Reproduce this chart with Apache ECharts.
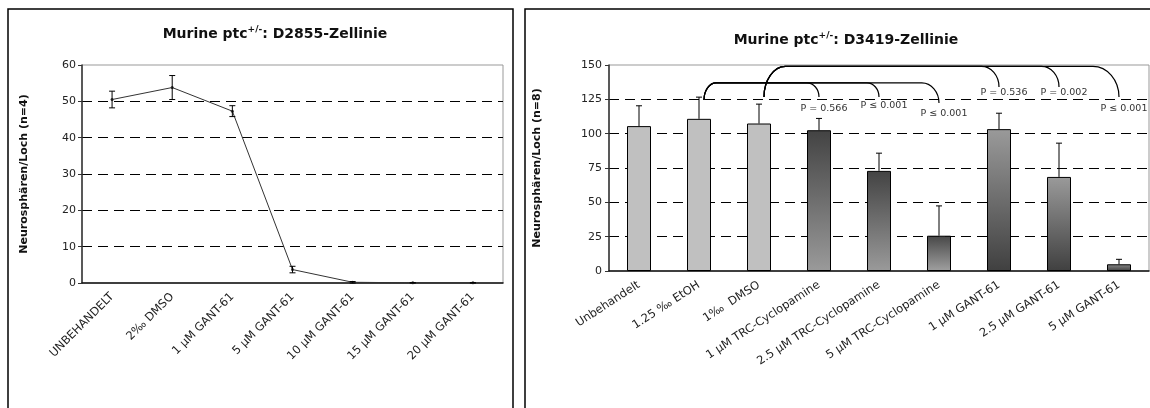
<!DOCTYPE html>
<html>
<head>
<meta charset="utf-8">
<script src="https://cdn.jsdelivr.net/npm/echarts@6/dist/echarts.min.js"></script>
<style>
  html, body { margin: 0; padding: 0; background: #fff; }
  #chart { width: 1150px; height: 408px; }
</style>
</head>
<body>
<div id="chart"></div>
<script>
// left panel: D2855 line chart (mean +/- error)
const leftCats = ['UNBEHANDELT', '2‰ DMSO', '1 µM GANT-61', '5 µM GANT-61', '10 µM GANT-61', '15 µM GANT-61', '20 µM GANT-61'];
const leftMeans = [50.5, 53.8, 47.3, 3.7, 0.2, 0.05, 0.05];
const leftErr = [2.3, 3.3, 1.5, 0.9, 0.2, 0.05, 0.05];

// right panel: D3419 bar chart (mean + upper error)
const rightCats = ['Unbehandelt', '1.25 ‰ EtOH', '1‰  DMSO', '1 µM TRC-Cyclopamine', '2.5 µM TRC-Cyclopamine', '5 µM TRC-Cyclopamine', '1 µM GANT-61', '2.5 µM GANT-61', '5 µM GANT-61'];
const rightMeans = [105.5, 110.8, 107.4, 102.5, 72.9, 25.7, 103.3, 68.5, 4.9];
const rightErr = [14.8, 15.8, 14.1, 8.6, 12.9, 21.7, 11.6, 24.6, 3.6];

// significance brackets (category index and y values)
const pFrom = [1, 1, 1, 2, 2, 2];
const pTo = [3, 4, 5, 6, 7, 8];
const pStart = [124.5, 124.5, 124.5, 126.7, 126.7, 126.7];
const pLevel = [137, 137, 137, 149, 149, 149];
const pEnd = [126.7, 126.7, 122.3, 134, 134, 126.7];
const pLabelY = [118, 120.2, 115, 129.6, 129.6, 118];
const pLabels = ['P = 0.566', 'P ≤ 0.001', 'P ≤ 0.001', 'P = 0.536', 'P = 0.002', 'P ≤ 0.001'];

const FONT = 'DejaVu Sans';
const chart = echarts.init(document.getElementById('chart'), null, { renderer: 'canvas' });

const grad = (top, bottom) => new echarts.graphic.LinearGradient(0, 0, 0, 1, [
  { offset: 0, color: top }, { offset: 1, color: bottom }
]);
const barColors = [
  '#c0c0c0', '#c0c0c0', '#c0c0c0',
  grad('#434343', '#9a9a9a'), grad('#434343', '#9a9a9a'), grad('#474747', '#a0a0a0'),
  grad('#9a9a9a', '#404040'), grad('#9a9a9a', '#404040'), grad('#8a8a8a', '#404040')
];

function errorBar(capBoth) {
  return function (params, api) {
    const x = api.value(0);
    const lo = api.coord([x, api.value(1)]);
    const hi = api.coord([x, api.value(2)]);
    const w = 3;
    const children = [
      { type: 'line', shape: { x1: hi[0], y1: hi[1], x2: lo[0], y2: lo[1] } },
      { type: 'line', shape: { x1: hi[0] - w, y1: hi[1], x2: hi[0] + w, y2: hi[1] } }
    ];
    if (capBoth) children.push({ type: 'line', shape: { x1: lo[0] - w, y1: lo[1], x2: lo[0] + w, y2: lo[1] } });
    children.forEach(c => c.style = { stroke: '#000', lineWidth: 1 });
    return { type: 'group', children };
  };
}

function bracket(params, api) {
  const i = params.dataIndex;
  const s = api.coord([api.value(0), api.value(2)]);
  const l = api.coord([api.value(1), api.value(3)]);
  const e = api.coord([api.value(1), api.value(4)]);
  const t = api.coord([api.value(1), api.value(5)]);
  const sx = s[0] + 5, sy = s[1], ly = l[1], ex = e[0], ey = e[1];
  const r1 = Math.abs(sy - ly) * 0.7;
  const r2 = Math.abs(ey - ly) * 0.85;
  const k = 0.55;
  const d = 'M' + sx + ' ' + sy +
    ' C' + sx + ' ' + (sy + (ly - sy) * k) + ' ' + (sx + r1 * (1 - k)) + ' ' + ly + ' ' + (sx + r1) + ' ' + ly +
    ' L' + (ex - r2) + ' ' + ly +
    ' C' + (ex - r2 * (1 - k)) + ' ' + ly + ' ' + ex + ' ' + (ly + (ey - ly) * (1 - k)) + ' ' + ex + ' ' + ey;
  return {
    type: 'group',
    children: [
      { type: 'path', shape: { pathData: d }, style: { stroke: '#000', lineWidth: 1.2, fill: 'none' } },
      { type: 'text', style: { text: pLabels[i], x: t[0] + 5, y: t[1], align: 'center', verticalAlign: 'middle',
          fill: '#333', fontSize: 9.5, fontFamily: FONT } }
    ]
  };
}

const axisLbl = { color: '#222', fontFamily: FONT };
const dashed = { show: true, showMinLine: false, showMaxLine: false, lineStyle: { color: '#000', type: [10, 6], width: 1 } };

const option = {
  animation: false,
  backgroundColor: '#fff',
  title: [
    { text: 'Murine ptc{sup|+/-}: D2855-Zellinie', left: 270, top: 20, textAlign: 'center',
      textStyle: { fontFamily: FONT, fontSize: 14, fontWeight: 'bold', color: '#111',
        rich: { sup: { fontFamily: FONT, fontSize: 9, fontWeight: 'bold', color: '#111', padding: [0, 0, 9, 0] } } } },
    { text: 'Murine ptc{sup|+/-}: D3419-Zellinie', left: 841, top: 26, textAlign: 'center',
      textStyle: { fontFamily: FONT, fontSize: 14, fontWeight: 'bold', color: '#111',
        rich: { sup: { fontFamily: FONT, fontSize: 9, fontWeight: 'bold', color: '#111', padding: [0, 0, 9, 0] } } } }
  ],
  graphic: [
    { type: 'rect', shape: { x: 8, y: 9, width: 505, height: 440 }, style: { fill: 'none', stroke: '#000', lineWidth: 1.5 }, silent: true },
    { type: 'rect', shape: { x: 525, y: 9, width: 660, height: 440 }, style: { fill: 'none', stroke: '#000', lineWidth: 1.5 }, silent: true }
  ],
  grid: [
    { left: 82, top: 65, width: 421, height: 218, show: true, borderColor: '#999', borderWidth: 1 },
    { left: 609, top: 65, width: 540, height: 206, show: true, borderColor: '#999', borderWidth: 1 }
  ],
  xAxis: [
    { type: 'category', gridIndex: 0, data: leftCats,
      axisLine: { lineStyle: { color: '#111', width: 1.5 } },
      axisTick: { length: 5, lineStyle: { color: '#111' } },
      axisLabel: Object.assign({ rotate: 45, margin: 12, interval: 0, fontSize: 11.5 }, axisLbl) },
    { type: 'category', gridIndex: 1, data: rightCats,
      axisLine: { lineStyle: { color: '#111', width: 1.5 } },
      axisTick: { length: 5, lineStyle: { color: '#111' } },
      axisLabel: Object.assign({ rotate: 33, margin: 13, interval: 0, fontSize: 11.5 }, axisLbl) }
  ],
  yAxis: [
    { type: 'value', gridIndex: 0, min: 0, max: 60, interval: 10,
      name: 'Neurosphären/Loch (n=4)', nameLocation: 'middle', nameGap: 52,
      nameTextStyle: { fontFamily: FONT, fontSize: 11, fontWeight: 'bold', color: '#111' },
      axisLine: { show: true, lineStyle: { color: '#333', width: 1.5 } },
      axisTick: { show: true, length: 4, lineStyle: { color: '#333' } },
      axisLabel: Object.assign({ margin: 6, fontSize: 11 }, axisLbl),
      splitLine: dashed },
    { type: 'value', gridIndex: 1, min: 0, max: 150, interval: 25,
      name: 'Neurosphären/Loch (n=8)', nameLocation: 'middle', nameGap: 66,
      nameTextStyle: { fontFamily: FONT, fontSize: 11, fontWeight: 'bold', color: '#111' },
      axisLine: { show: true, lineStyle: { color: '#333', width: 1.5 } },
      axisTick: { show: true, length: 4, lineStyle: { color: '#333' } },
      axisLabel: Object.assign({ margin: 7, fontSize: 11 }, axisLbl),
      splitLine: dashed }
  ],
  series: [
    { type: 'line', xAxisIndex: 0, yAxisIndex: 0, data: leftMeans,
      symbol: 'circle', symbolSize: 3, itemStyle: { color: '#333' },
      lineStyle: { color: '#333', width: 1 }, z: 3 },
    { type: 'custom', xAxisIndex: 0, yAxisIndex: 0, renderItem: errorBar(true), z: 4,
      data: leftMeans.map((m, i) => [i, m - leftErr[i], m + leftErr[i]]) },
    { type: 'bar', xAxisIndex: 1, yAxisIndex: 1, barWidth: 24,
      data: rightMeans.map((v, i) => ({ value: v, itemStyle: { color: barColors[i] } })),
      itemStyle: { borderColor: '#000', borderWidth: 1 }, z: 3 },
    { type: 'custom', xAxisIndex: 1, yAxisIndex: 1, renderItem: errorBar(false), z: 4,
      data: rightMeans.map((m, i) => [i, m, m + rightErr[i]]) },
    { type: 'custom', xAxisIndex: 1, yAxisIndex: 1, renderItem: bracket, z: 5, clip: false,
      data: pFrom.map((f, i) => [f, pTo[i], pStart[i], pLevel[i], pEnd[i], pLabelY[i]]) }
  ]
};
chart.setOption(option);
</script>
</body>
</html>
